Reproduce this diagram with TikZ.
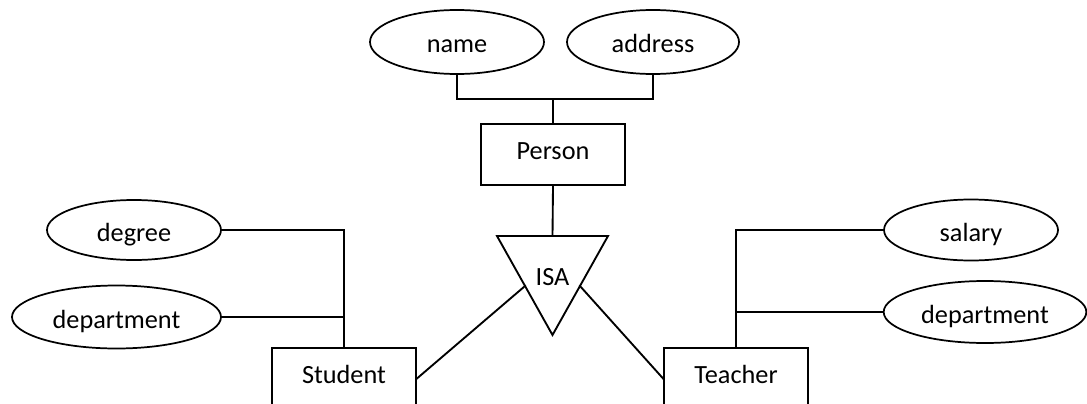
\documentclass[tikz,border=0pt]{standalone}
\usepackage{fontspec}
\setmainfont{Carlito}
\usetikzlibrary{shapes.geometric,calc}
\begin{document}
\begin{tikzpicture}[x=0.75pt,y=-0.75pt,
  every node/.style={font=\fontsize{19.7}{23}\selectfont},
  conn/.style={line width=1.4pt,line cap=rect},
  attr/.style={draw,ellipse,inner sep=0pt,line width=1.3pt,
    text height=18pt,text depth=1.5pt},
  entity/.style={draw,rectangle,inner sep=0pt,line width=1.4pt,
    text height=14pt,text depth=6pt,
    minimum width=108pt,minimum height=45.75pt}]
\useasboundingbox (0,0) rectangle (1087,403);

% attributes of Person
\node[attr,minimum width=130.5pt,minimum height=48pt] (name) at (457,42) {name};
\node[attr,minimum width=129pt,minimum height=48pt] (address) at (653,42) {address};

% entities
\node[entity] (person) at (553,154.5) {Person};
\node[entity] (student) at (344,378.5) {Student};
\node[entity] (teacher) at (736,378.5) {Teacher};

% attributes of Student
\node[attr,minimum width=130.5pt,minimum height=45pt] (degree) at (134,230) {degree};
\node[attr,minimum width=156.75pt,minimum height=47.25pt] (sdept) at (116.5,317) {department};

% attributes of Teacher
\node[attr,minimum width=130.5pt,minimum height=45.75pt] (salary) at (971,230) {salary};
\node[attr,minimum width=152pt,minimum height=46.5pt] (tdept) at (985,312) {department};

% ISA triangle
\coordinate (tl) at (497,236);
\coordinate (tr) at (608,236);
\coordinate (tb) at (552.5,335);
\draw[line width=1.4pt,line join=miter] (tl) -- (tr) -- (tb) -- cycle;
\node[anchor=base,inner sep=0pt] (isa) at (552.5,285) {ISA};
\coordinate (isatop) at ($(tl)!0.5!(tr)$);
\coordinate (isaleft) at ($(tl)!0.505!(tb)$);
\coordinate (isaright) at ($(tr)!0.505!(tb)$);

% connectors
\coordinate (pj) at (person.north |- 0,99);
\draw[conn] (name.south) |- (pj);
\draw[conn] (address.south) |- (pj);
\draw[conn] (pj) -- (person.north);
\draw[conn] (person.south) -- (isatop);
\draw[conn] (student.east) -- (isaleft);
\draw[conn] (teacher.west) -- (isaright);

\draw[conn] (degree.east) -| (student.north);
\draw[conn] (sdept.east) -- (sdept.east -| student.north);
\draw[conn] (salary.west) -| (teacher.north);
\draw[conn] (tdept.west) -- (tdept.west -| teacher.north);
\end{tikzpicture}
\end{document}
